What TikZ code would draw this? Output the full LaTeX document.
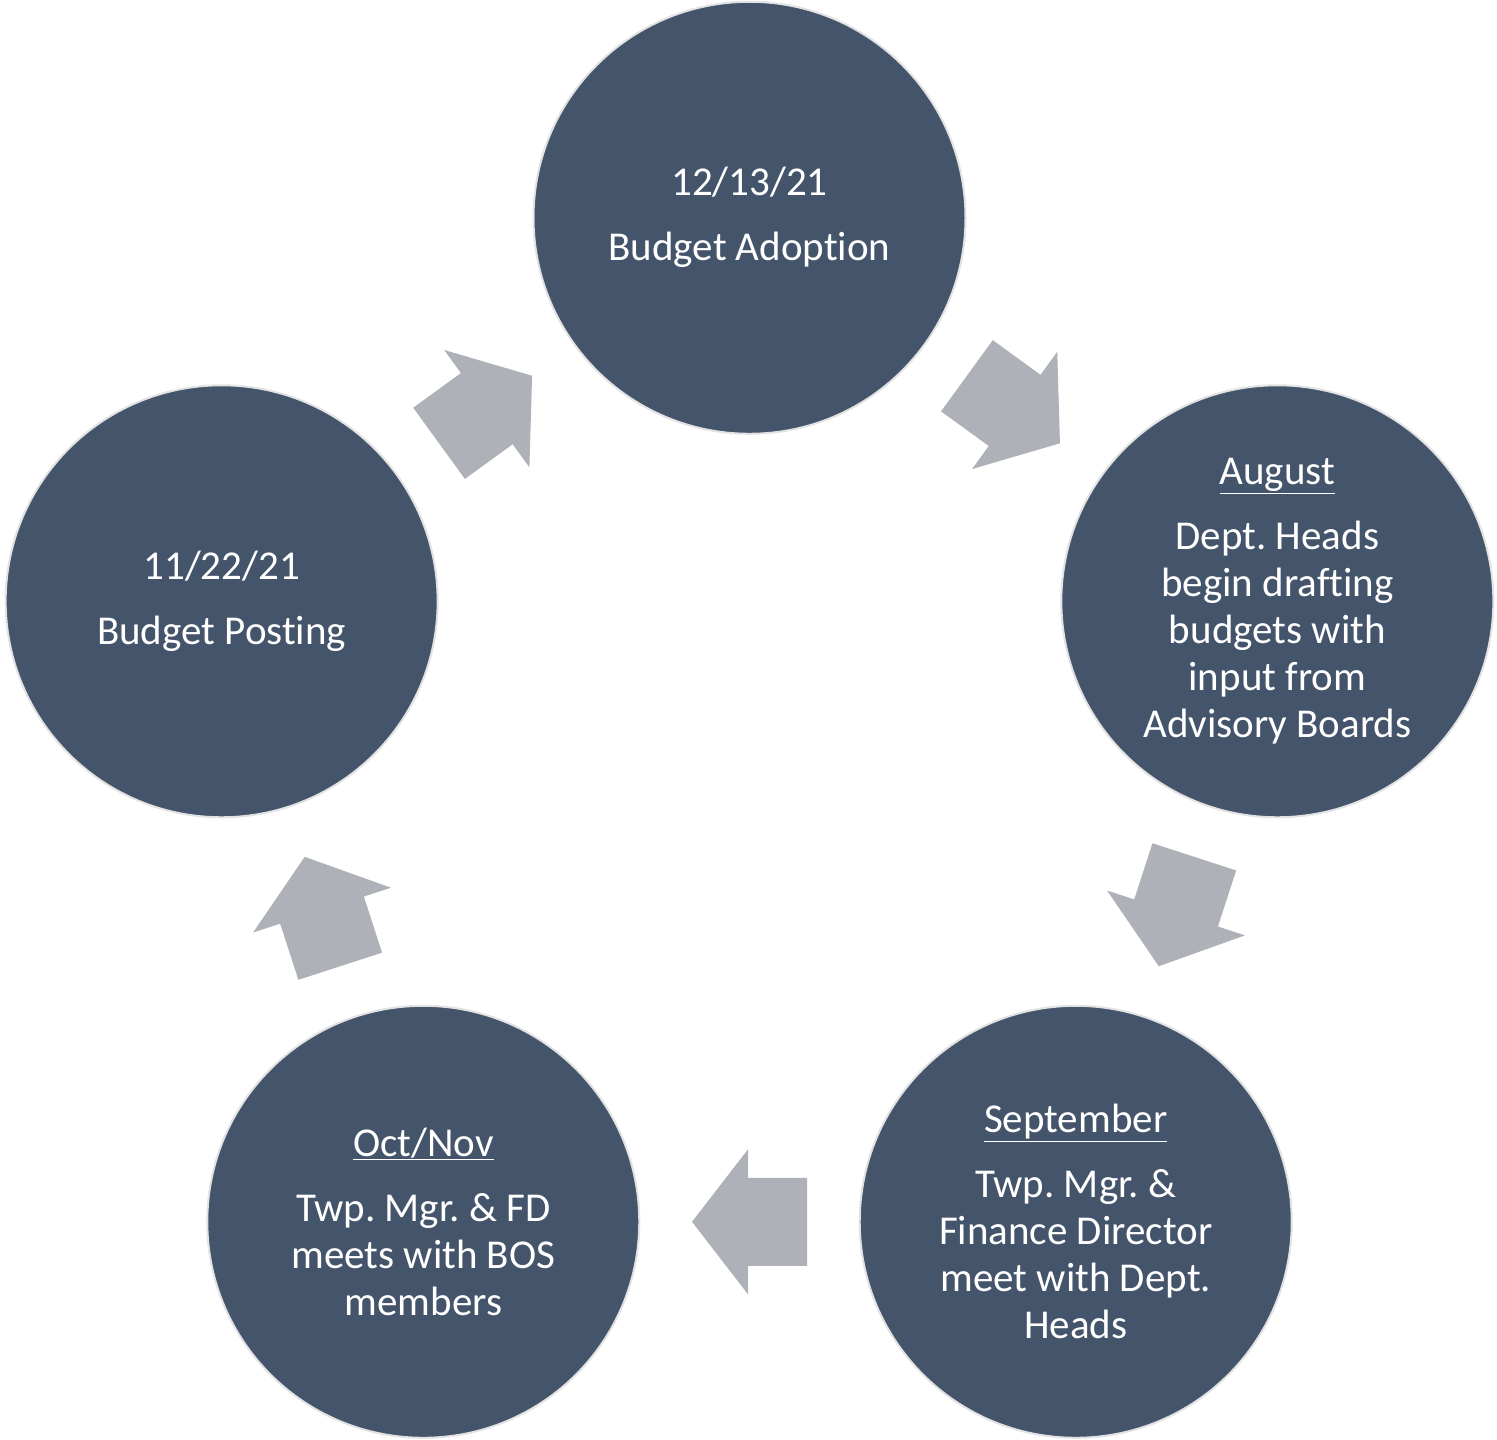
\documentclass[tikz,border=0pt]{standalone}
\usepackage{fontspec}
\setmainfont{Carlito}[Ligatures={NoCommon}]
\usetikzlibrary{calc}
\definecolor{circfill}{HTML}{44546A}
\definecolor{circline}{HTML}{E2E2E2}
\definecolor{arrfill}{HTML}{AEB1B8}
\newcommand\blockarrow[3]{%
  \fill[arrfill, shift={($(#1)!0.5!(#2)$)}, rotate=#3]
    (-57.5,-44) -- (1.5,-44) -- (1.5,-72.5) -- (57.5,0) -- (1.5,72.5) -- (1.5,44) -- (-57.5,44) -- cycle;}
\begin{document}
\frenchspacing
\begin{tikzpicture}[x=1pt,y=1pt,
  stage/.style={circle, draw=circline, line width=2pt, fill=circfill, minimum size=432pt, inner sep=0pt},
  stagetext/.style={text=white, align=center, inner sep=0pt, font=\fontsize{41}{47}\selectfont\frenchspacing}]
\useasboundingbox (0,0) rectangle (1497,1440);
\coordinate (C) at (749.5,667.2);
\node[stage] (top) at ($(C)+(90:555)$) {};
\node[stage] (right) at ($(C)+(18:555)$) {};
\node[stage] (bright) at ($(C)+(-54:555)$) {};
\node[stage] (bleft) at ($(C)+(-126:555)$) {};
\node[stage] (left) at ($(C)+(162:555)$) {};
\node[stagetext] (topT) at (top) {12/13/21\\[18pt]Budget Adoption};
\node[stagetext] (rightT) at (right) {\underline{August}\\[18pt]Dept. Heads\\begin drafting\\budgets with\\input from\\Advisory Boards};
\node[stagetext] (brightT) at (bright) {\underline{September}\\[18pt]Twp. Mgr. \&\\Finance Director\\meet with Dept.\\Heads};
\node[stagetext] (bleftT) at (bleft) {\underline{Oct/Nov}\\[18pt]Twp. Mgr. \& FD\\meets with BOS\\members};
\node[stagetext] (leftT) at (left) {11/22/21\\[18pt]Budget Posting};
\blockarrow{top}{right}{-36}
\blockarrow{right}{bright}{-108}
\blockarrow{bright}{bleft}{180}
\blockarrow{bleft}{left}{108}
\blockarrow{left}{top}{36}
\end{tikzpicture}
\end{document}
